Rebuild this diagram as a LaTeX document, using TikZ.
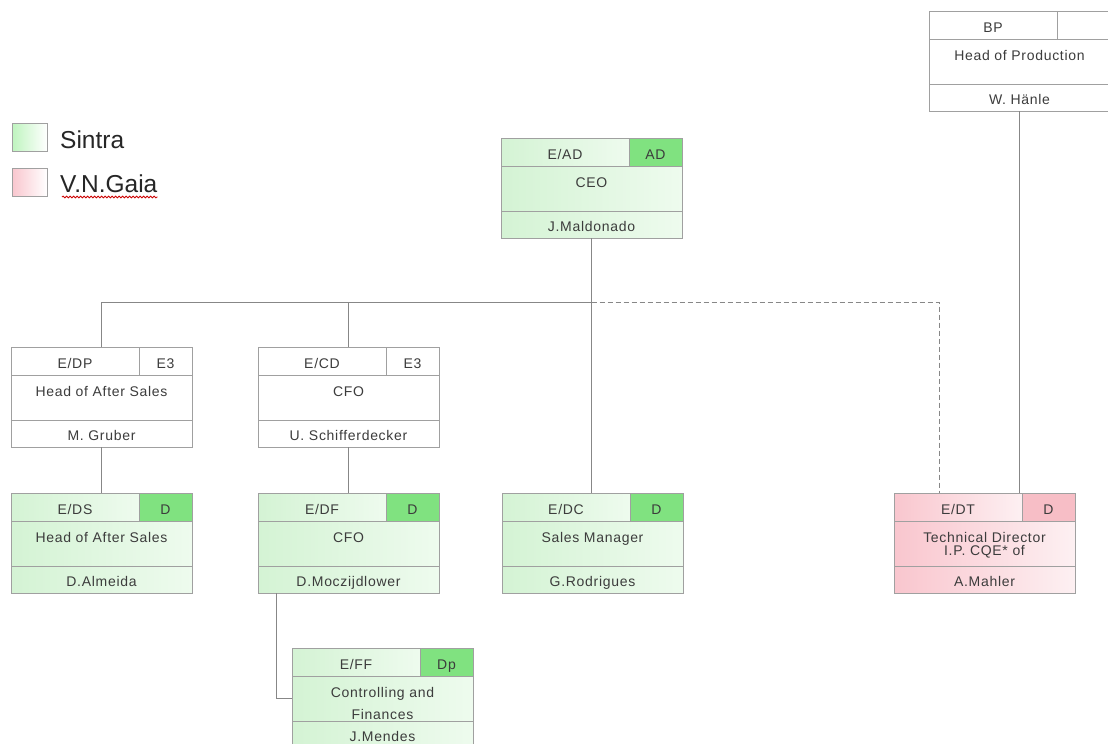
\documentclass[tikz,border=0pt]{standalone}
\usepackage{fontspec}
\setmainfont{Liberation Sans}
\newfontfamily\boxfont[LetterSpace=5]{Liberation Sans}
\usetikzlibrary{calc,decorations.pathmorphing}
\definecolor{gA}{RGB}{212,243,212}
\definecolor{gB}{RGB}{238,251,238}
\definecolor{gT}{RGB}{128,226,128}
\definecolor{pA}{RGB}{249,198,206}
\definecolor{pB}{RGB}{253,240,242}
\definecolor{pT}{RGB}{247,190,198}
\definecolor{edge}{RGB}{160,160,160}
\definecolor{wire}{RGB}{135,135,135}
\definecolor{ink}{RGB}{60,60,60}

% name, x, y, scheme, code, tag, title, person
\newcommand\orgbox[8]{%
  \node[cell,#4,minimum width=128pt,minimum height=28pt,anchor=north west] (#1-code) at (#2,#3) {#5};
  \node[cell,#4tag,minimum width=53pt,minimum height=28pt,anchor=north west] (#1-tag) at (#1-code.north east) {#6};
  \node[cell,#4,minimum width=181pt,minimum height=45pt,anchor=north west] (#1-mid) at (#1-code.south west) {};
  \node[cell,#4,minimum width=181pt,minimum height=27pt,anchor=north west] (#1-bot) at (#1-mid.south west) {#8};
  \node[title] (#1-title) at ($(#1-mid.north west)+(90.5,21)$) {#7};
  \coordinate (#1-top) at ($(#1-code.north west)+(90.5,0)$);
}

\begin{document}
\begin{tikzpicture}[x=1pt,y=-1pt,
  cell/.style={draw=edge,line width=1pt,inner sep=0pt,outer sep=0pt,text=ink,
    text height=14pt,text depth=0pt,
    font=\boxfont\fontsize{14}{14}\selectfont},
  title/.style={anchor=base,inner sep=0pt,text=ink,font=\boxfont\fontsize{14}{14}\selectfont},
  sin/.style={left color=gA,right color=gB},
  sintag/.style={fill=gT},
  gaia/.style={left color=pA,right color=pB},
  gaiatag/.style={fill=pT},
  plain/.style={fill=white},
  plaintag/.style={fill=white},
  conn/.style={draw=wire,line width=1pt},
  legsq/.style={draw=edge,line width=1pt,inner sep=0pt,outer sep=0pt,minimum width=35pt,minimum height=28pt,anchor=north west},
  legtext/.style={anchor=base west,inner sep=0pt,text=black!85,font=\fontsize{24.5}{24.5}\selectfont}
]
\fill[white] (0,0) rectangle (1108,744);
\useasboundingbox (0,0) rectangle (1108,744);

% legend
\node[legsq,left color=gA!90!green,right color=white] (legS) at (12,123) {};
\node[legtext] (legSt) at (60,148) {Sintra};
\node[legsq,left color=pA,right color=white] (legG) at (12,168) {};
\node[legtext] (legGt) at (60,192) {V.N.Gaia};
\draw[red!80!black,line width=0.8pt,decorate,decoration={snake,amplitude=0.9pt,segment length=3.5pt}]
  ($(legGt.base west)+(2,5)$) -- ($(legGt.base east)+(0,5)$);

% boxes
\orgbox{BP}{929}{11}{plain}{BP}{}{Head of Production}{W. Hänle}
\orgbox{CEO}{501}{138}{sin}{E/AD}{AD}{CEO}{J.Maldonado}
\orgbox{DP}{11}{347}{plain}{E/DP}{E3}{Head of After Sales}{M. Gruber}
\orgbox{CD}{258}{347}{plain}{E/CD}{E3}{CFO}{U. Schifferdecker}
\orgbox{DS}{11}{493}{sin}{E/DS}{D}{Head of After Sales}{D.Almeida}
\orgbox{DF}{258}{493}{sin}{E/DF}{D}{CFO}{D.Moczijdlower}
\orgbox{DC}{502}{493}{sin}{E/DC}{D}{Sales Manager}{G.Rodrigues}
\orgbox{DT}{894}{493}{gaia}{E/DT}{D}{Technical Director}{A.Mahler}
\node[title] (DT-title2) at ($(DT-title.base)+(0,13)$) {I.P. CQE* of};
\orgbox{FF}{292}{648}{sin}{E/FF}{Dp}{Controlling and}{J.Mendes}
\node[title] (FF-title2) at ($(FF-title.base)+(0,22)$) {Finances};

% connectors
\coordinate (bus) at (0,302);
\coordinate (DTin) at (939,493);
\coordinate (DFout) at (276,593);
\draw[conn] (DP-top) |- (CEO-bot.south |- bus);
\draw[conn] (CD-top) -- (CD-top |- bus);
\draw[conn] (CEO-bot.south) -- (CEO-bot.south |- DC-top);
\draw[conn,dash pattern=on 5pt off 3pt] (CEO-bot.south |- bus) -| (DTin);
\draw[conn] (DP-bot.south) -- (DS-top);
\draw[conn] (CD-bot.south) -- (DF-top);
\draw[conn] (DFout) |- (FF-mid.west);
\draw[conn] (BP-bot.south) -- (BP-bot.south |- DT-tag.north);
\end{tikzpicture}
\end{document}
